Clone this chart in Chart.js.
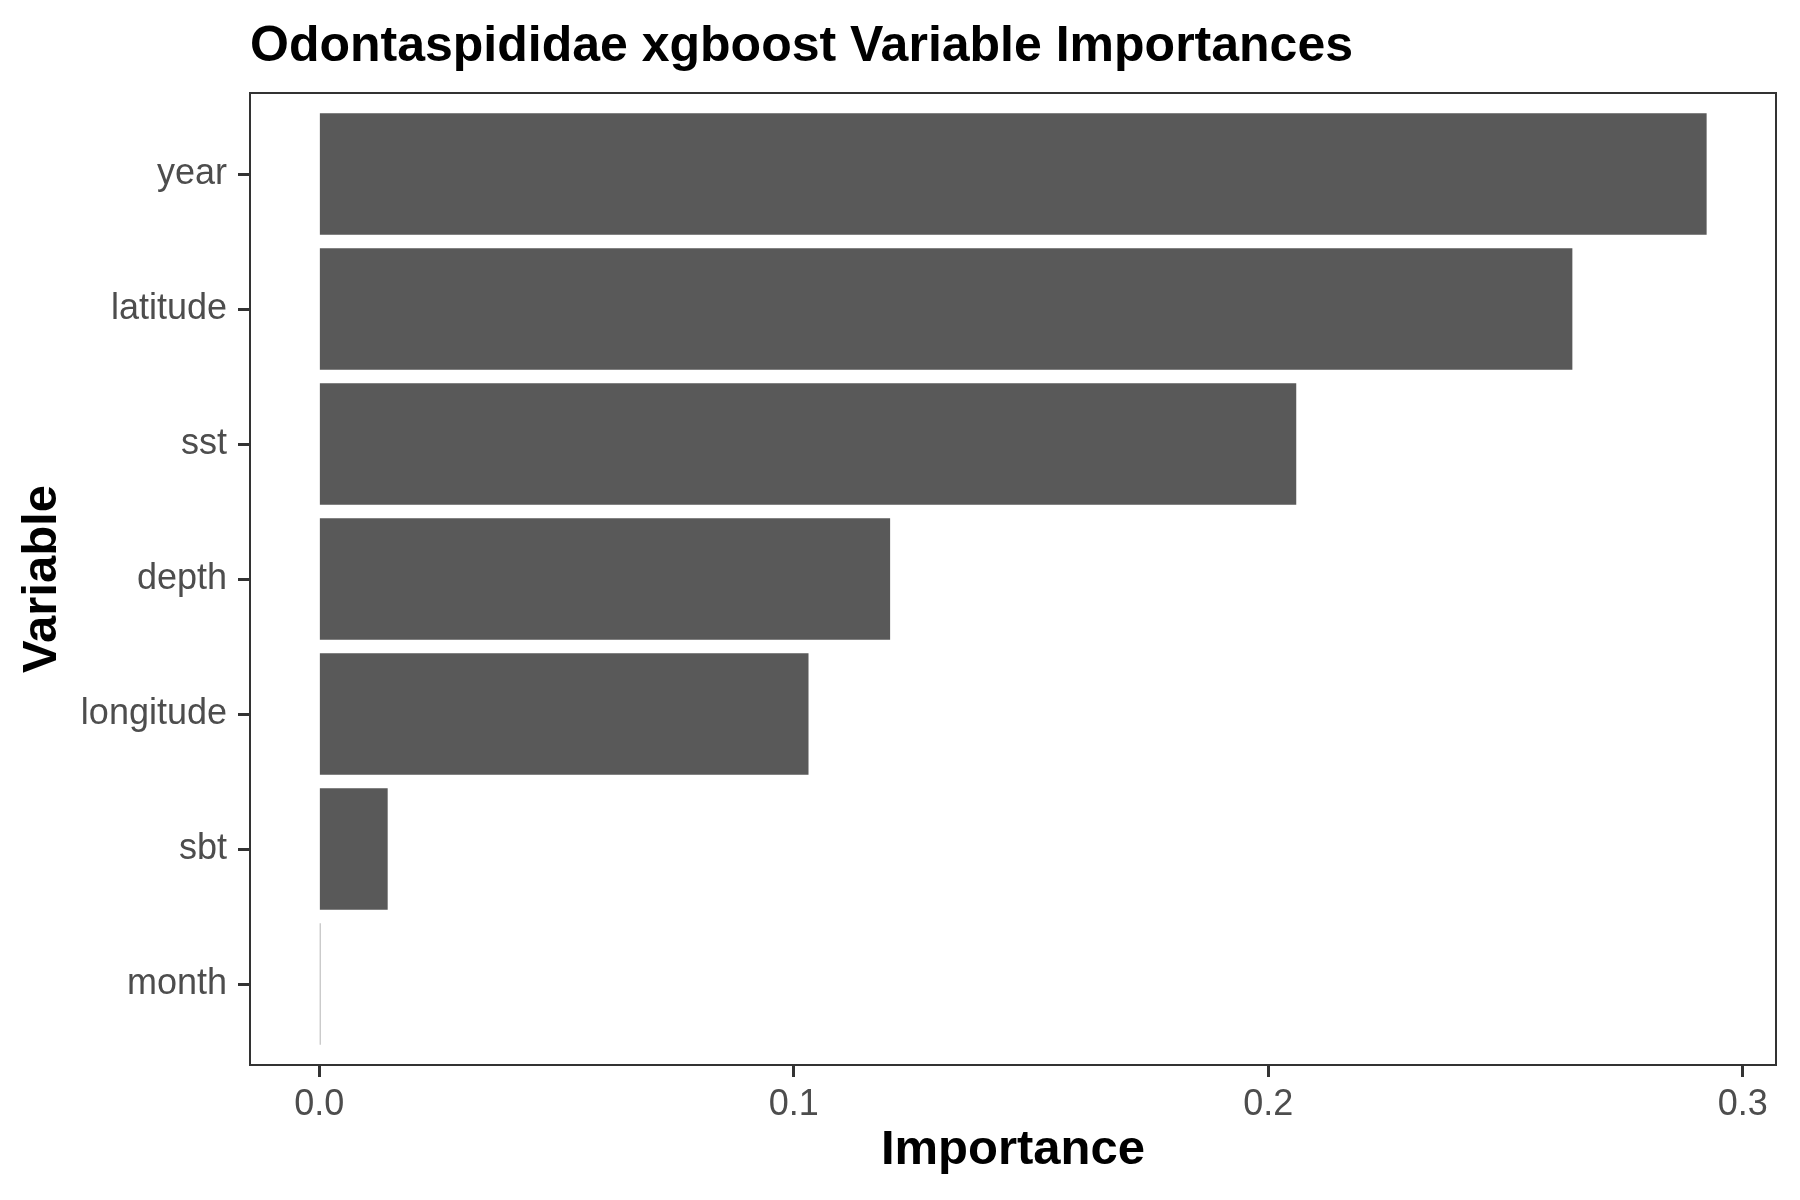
<!DOCTYPE html>
<html>
<head>
<meta charset="utf-8">
<script src="https://cdn.jsdelivr.net/npm/chart.js@4"></script>
<style>
  body { margin: 0; background: #fff; }
</style>
</head>
<body>
<canvas id="chart" width="1800" height="1200"></canvas>
<script>
const variables = ['year', 'latitude', 'sst', 'depth', 'longitude', 'sbt', 'month']
const importance = [0.2924, 0.2641, 0.2059, 0.1203, 0.1031, 0.0144, 0.0002]
const xTicks = [0, 0.1, 0.2, 0.3]
const xTickLabels = ['0.0', '0.1', '0.2', '0.3']

// ggplot style 5% expansion on the continuous axis, 0.6 on the discrete one
const pad = Math.max(...importance) * 0.05

const panelBorder = {
  id: 'panelBorder',
  afterDraw(chart) {
    const { ctx, chartArea: a } = chart
    ctx.save()
    ctx.strokeStyle = '#333333'
    ctx.lineWidth = 2
    ctx.strokeRect(a.left, a.top, a.right - a.left, a.bottom - a.top)
    ctx.restore()
  }
}

Chart.defaults.font.family = '"Liberation Sans", Arial, sans-serif'

const ctx = document.getElementById('chart').getContext('2d')
new Chart(ctx, {
  type: 'bar',
  data: {
    datasets: [{
      data: variables.map((v, i) => ({ x: importance[i], y: i })),
      backgroundColor: '#595959',
      borderWidth: 0,
      barPercentage: 0.9,
      categoryPercentage: 1
    }]
  },
  options: {
    indexAxis: 'y',
    responsive: false,
    animation: false,
    devicePixelRatio: 1,
    layout: { padding: { left: 0, top: 0, right: 24, bottom: 0 } },
    plugins: {
      legend: { display: false },
      tooltip: { enabled: false },
      title: {
        display: true,
        text: 'Odontaspididae xgboost Variable Importances',
        align: 'start',
        fullSize: false,
        color: '#000000',
        font: { size: 50, weight: 'bold', lineHeight: 1.2 },
        padding: { top: 17, bottom: 16 }
      }
    },
    scales: {
      x: {
        type: 'linear',
        min: -pad,
        max: Math.max(...importance) + pad,
        afterBuildTicks: (scale) => { scale.ticks = xTicks.map((v) => ({ value: v })) },
        afterFit: (scale) => { scale.height = 135 },
        ticks: {
          color: '#4D4D4D',
          font: { size: 36 },
          padding: 6,
          maxRotation: 0,
          callback: (v) => xTickLabels[xTicks.indexOf(v)]
        },
        grid: {
          display: true,
          drawOnChartArea: false,
          drawTicks: true,
          tickLength: 12,
          tickWidth: 3,
          tickColor: '#333333'
        },
        border: { display: false },
        title: {
          display: true,
          text: 'Importance',
          color: '#000000',
          font: { size: 49, weight: 'bold', lineHeight: 1.2 },
          padding: { top: 0, bottom: 20 }
        }
      },
      y: {
        type: 'linear',
        reverse: true,
        offset: false,
        min: -0.6,
        max: variables.length - 0.4,
        afterBuildTicks: (scale) => { scale.ticks = variables.map((v, i) => ({ value: i })) },
        afterFit: (scale) => { scale.width = 250 },
        ticks: {
          color: '#4D4D4D',
          font: { size: 36 },
          padding: 11,
          callback: (v) => variables[v]
        },
        grid: {
          display: true,
          offset: false,
          drawOnChartArea: false,
          drawTicks: true,
          tickLength: 12,
          tickWidth: 3,
          tickColor: '#333333'
        },
        border: { display: false },
        title: {
          display: true,
          text: 'Variable',
          color: '#000000',
          font: { size: 49, weight: 'bold', lineHeight: 1.2 },
          padding: { top: 13, bottom: 0 }
        }
      }
    }
  },
  plugins: [panelBorder]
})
</script>
</body>
</html>
